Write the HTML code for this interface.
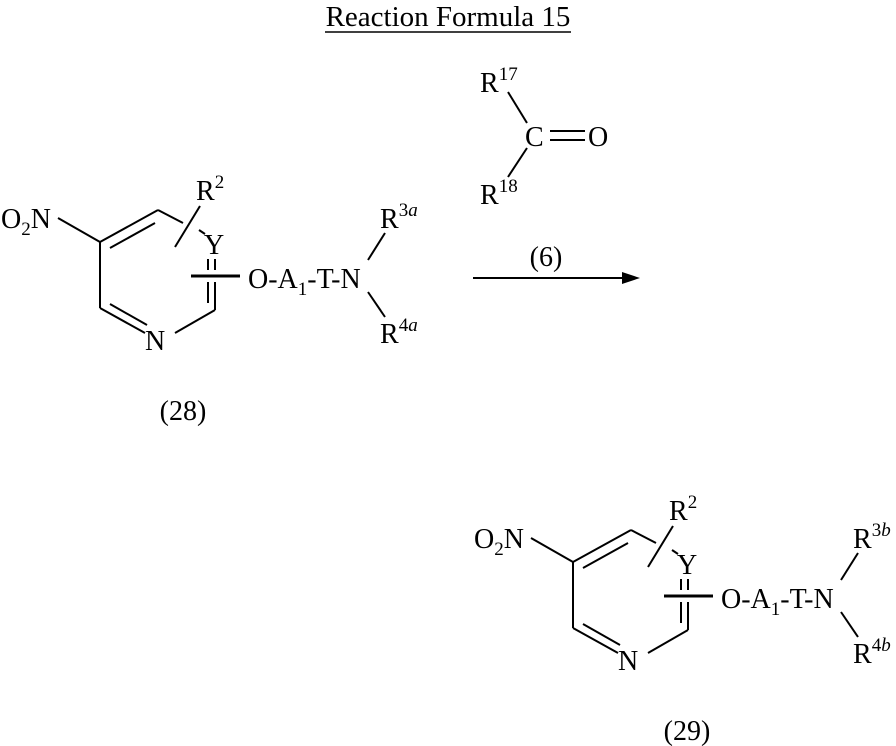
<!DOCTYPE html>
<html><head><style>body{margin:0;background:#fff}svg{display:block}text{font-family:"Liberation Serif",serif;fill:#000}</style></head>
<body>
<svg width="896" height="746" viewBox="0 0 896 746" xmlns="http://www.w3.org/2000/svg">
<defs>
<g id="mol" stroke="#000" stroke-width="2" fill="none">
<line x1="58" y1="218" x2="100" y2="242"/>
<line x1="100" y1="242" x2="158" y2="210"/>
<line x1="110" y1="248" x2="155" y2="223"/>
<line x1="158" y1="210" x2="183" y2="223"/>
<line x1="199" y1="230" x2="205" y2="234"/>
<line x1="200" y1="206" x2="175" y2="247"/>
<line x1="215" y1="259" x2="215" y2="270"/>
<line x1="208" y1="259" x2="208" y2="270"/>
<line x1="215" y1="282" x2="215" y2="310"/>
<line x1="208" y1="282" x2="208" y2="303"/>
<line x1="191" y1="276" x2="240" y2="276" stroke-width="3"/>
<line x1="215" y1="310" x2="175" y2="333"/>
<line x1="145" y1="333" x2="100" y2="308"/>
<line x1="110" y1="304" x2="147" y2="325"/>
<line x1="100" y1="308" x2="100" y2="242"/>
<line x1="368" y1="260" x2="385" y2="233"/>
<line x1="368" y1="292" x2="385" y2="317"/>
</g>
</defs>
<text x="448" y="26" font-size="29" text-anchor="middle">Reaction Formula 15</text>
<line x1="325" y1="32" x2="571" y2="32" stroke="#000" stroke-width="1.5"/>

<use href="#mol"/>
<g id="lab">
<text x="1" y="228" font-size="28">O<tspan font-size="19" dy="7">2</tspan><tspan dy="-7">N</tspan></text>
<text x="196" y="200" font-size="28">R<tspan font-size="19" dy="-12">2</tspan></text>
<text x="204" y="254" font-size="28">Y</text>
<text x="145" y="350" font-size="28">N</text>
<text x="248" y="288" font-size="28">O-A<tspan font-size="19" dy="7">1</tspan><tspan dy="-7">-T-N</tspan></text>
</g>
<text x="380" y="228" font-size="28">R<tspan font-size="19" dy="-12">3<tspan font-style="italic">a</tspan></tspan></text>
<text x="380" y="343" font-size="28">R<tspan font-size="19" dy="-12">4<tspan font-style="italic">a</tspan></tspan></text>
<text x="183" y="420" font-size="28" text-anchor="middle">(28)</text>

<g stroke="#000" stroke-width="2">
<line x1="508" y1="92" x2="527" y2="123"/>
<line x1="508" y1="177" x2="527" y2="148"/>
<line x1="550" y1="131" x2="585" y2="131"/>
<line x1="550" y1="140" x2="585" y2="140"/>
<line x1="473" y1="278" x2="628" y2="278"/>
</g>
<polygon points="640,278 622,272 622,284" fill="#000"/>
<text x="480" y="92" font-size="28">R<tspan font-size="19" dy="-12">17</tspan></text>
<text x="525" y="146" font-size="28">C</text>
<text x="588" y="146" font-size="28">O</text>
<text x="480" y="204" font-size="28">R<tspan font-size="19" dy="-12">18</tspan></text>
<text x="546" y="266" font-size="28" text-anchor="middle">(6)</text>

<use href="#mol" transform="translate(473,320)"/>
<use href="#lab" transform="translate(473,320)"/>
<text x="853" y="548" font-size="28">R<tspan font-size="19" dy="-12">3<tspan font-style="italic">b</tspan></tspan></text>
<text x="853" y="663" font-size="28">R<tspan font-size="19" dy="-12">4<tspan font-style="italic">b</tspan></tspan></text>
<text x="687" y="740" font-size="28" text-anchor="middle">(29)</text>
</svg>
</body></html>
